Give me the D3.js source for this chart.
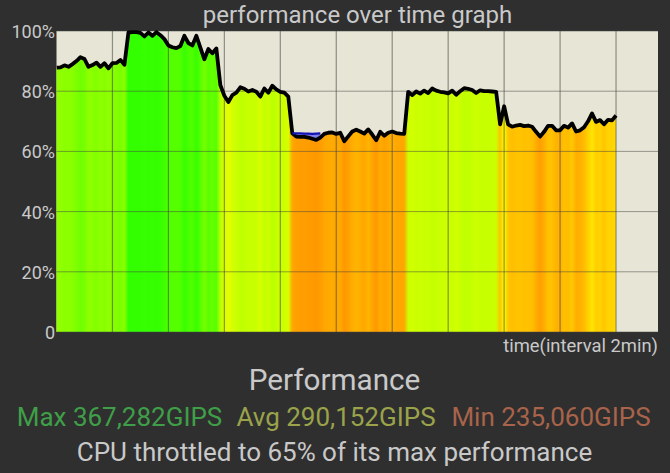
<!DOCTYPE html>
<html><head><meta charset="utf-8">
<script src="https://cdnjs.cloudflare.com/ajax/libs/d3/7.8.5/d3.min.js"></script>
<style>html,body{margin:0;padding:0;background:#2f2f2f}svg{display:block}text{font-family:Roboto,sans-serif}</style>
</head><body><svg id="c" width="670" height="473"></svg>
<script>
const performance_pct = [
87.8,87.9,88.6,88.1,89.0,90.0,91.3,90.7,88.1,88.7,89.5,88.1,89.3,87.6,89.3,89.4,90.4,88.8,
99.5,99.6,99.6,99.4,98.2,99.5,98.4,99.6,98.6,97.3,95.2,94.6,94.3,95,98.4,96,95.2,98.4,94.5,90.6,94,92.6,94.2,
82,78.5,76.4,78.7,79.5,81.3,80.8,79.9,80.4,79.8,78.2,80.9,79.5,81.8,80.6,79.8,79.5,78.2,
66,64.9,64.8,64.8,64.6,64.2,63.8,64.6,65.8,66.2,66.3,65.8,66.2,63.4,65,66.6,67.2,66.6,65.9,67.3,65.6,63.7,66.5,65.2,66.2,66.6,66.1,65.9,65.8,
79.8,78.7,79.9,79.2,80.2,79.4,80.9,80.2,79.8,79.6,79.3,80.2,78.8,80,81,80.8,80.4,79.4,80.3,80,80,79.9,79.8,
69,75,69,68.2,68.6,68.8,68.4,68.6,68.2,66.5,64.9,66.5,68.5,68.5,67,67,68.5,67.9,69.3,66.6,67,68,70,72.6,69.8,70.4,69,70.5,70.3,71.9];
const throttleSamples = [59,60,61,62,63,64,65,66];
const throttleCeiling = [66,66,66,65.9,65.9,65.8,65.9,66];
const yTicks = [0,20,40,60,80,100];
const timeTicks = [14,28,42,56,70,84,98,112,126,140];
const colorStops = [64,66,68,70,72,75,80,88,94,99];
const colorValues = ["#ff9800","#ffa800","#ffbc00","#ffd000","#ffe000","#f4ff00","#c8ff00","#90ff00","#58ff00","#33ff00"];
const titleText = "performance over time graph";
const axisNote = "time(interval 2min)";
const heading = "Performance";
const stats = ["Max 367,282GIPS","Avg 290,152GIPS","Min 235,060GIPS"];
const footer = "CPU throttled to 65% of its max performance";

const svg = d3.select("#c");
const L=56.5,R=658,T=31,B=332;
const x = d3.scaleLinear().domain([0,150.5]).range([L,R]);
const y = d3.scaleLinear().domain([0,100]).range([B,T]);
const color = d3.scaleLinear().domain(colorStops).range(colorValues).clamp(true);
const last = performance_pct.length-1;

svg.append("rect").attr("x",L).attr("y",T).attr("width",R-L).attr("height",B-T).attr("fill","#e6e5d6");

// coloured samples, blended along time
const grad = svg.append("defs").append("linearGradient").attr("id","heat")
  .attr("gradientUnits","userSpaceOnUse").attr("x1",x(0)).attr("x2",x(last)).attr("y1",0).attr("y2",0);
grad.selectAll("stop").data(performance_pct).join("stop")
  .attr("offset",(d,i)=>i/last).attr("stop-color",d=>color(d));
const fillArea = d3.area().x((d,i)=>x(i)).y0(B).y1(d=>y(d));
svg.append("path").datum(performance_pct).attr("d",fillArea).attr("fill","url(#heat)");

// throttle wedge
const wedge = d3.area().x(d=>x(d)).y0(d=>y(performance_pct[d]))
  .y1((d,i)=>y(throttleCeiling[i]));
svg.append("path").datum(throttleSamples).attr("d",wedge).attr("fill","#7f7fe8");

// grid
const gridG = svg.append("g");
gridG.selectAll("line.v").data(timeTicks).join("line").attr("class","v")
  .attr("x1",d=>x(d)).attr("x2",d=>x(d)).attr("y1",T).attr("y2",B)
  .attr("stroke","#444").attr("stroke-opacity",.55).attr("stroke-width",1.2);
gridG.selectAll("line.h").data(yTicks).join("line").attr("class","h")
  .attr("x1",L).attr("x2",R).attr("y1",d=>y(d)).attr("y2",d=>y(d))
  .attr("stroke","#444").attr("stroke-opacity",.5).attr("stroke-width",1);

// y axis labels
const yAxis = d3.axisLeft(y).tickValues(yTicks).tickSize(0).tickPadding(1)
  .tickFormat(d=>d===0?"0":d+"%");
const ya = svg.append("g").attr("transform",`translate(${L-0.5},0)`).call(yAxis);
ya.select(".domain").remove();
ya.selectAll("text").attr("fill","#c9c9c9").style("font-size","18px").style("font-family","Roboto,sans-serif").attr("dy","0.36em");

// line
const line = d3.line().x((d,i)=>x(i)).y(d=>y(d));
svg.append("clipPath").attr("id","pc").append("rect").attr("x",L).attr("y",T-1).attr("width",R-L).attr("height",B-T+1);
svg.append("path").datum(performance_pct).attr("d",line).attr("fill","none")
  .attr("stroke","#000").attr("stroke-width",3.8).attr("stroke-linejoin","round").attr("clip-path","url(#pc)");
const ceil = d3.line().x(d=>x(d)).y((d,i)=>y(throttleCeiling[i]));
svg.append("path").datum(throttleSamples).attr("d",ceil).attr("fill","none")
  .attr("stroke","#1414b4").attr("stroke-width",2.2);

// texts
function t(s,xp,yp,size,fill,anchor){
  return svg.append("text").attr("x",xp).attr("y",yp).attr("font-size",size).attr("fill",fill)
    .attr("text-anchor",anchor||"middle").text(s);
}
t(titleText,357.5,23,24,"#c9c9c9");
t(axisNote,658,352,18.4,"#c9c9c9","end");
t(heading,334.5,390,29.7,"#c9c9c9");
t(stats[0],119.5,426,26,"#3f9f48");
t(stats[1],336,426,26,"#9aa34a");
t(stats[2],551,426,26,"#a8634a");
t(footer,334.5,461,26,"#c9c9c9");
</script></body></html>
